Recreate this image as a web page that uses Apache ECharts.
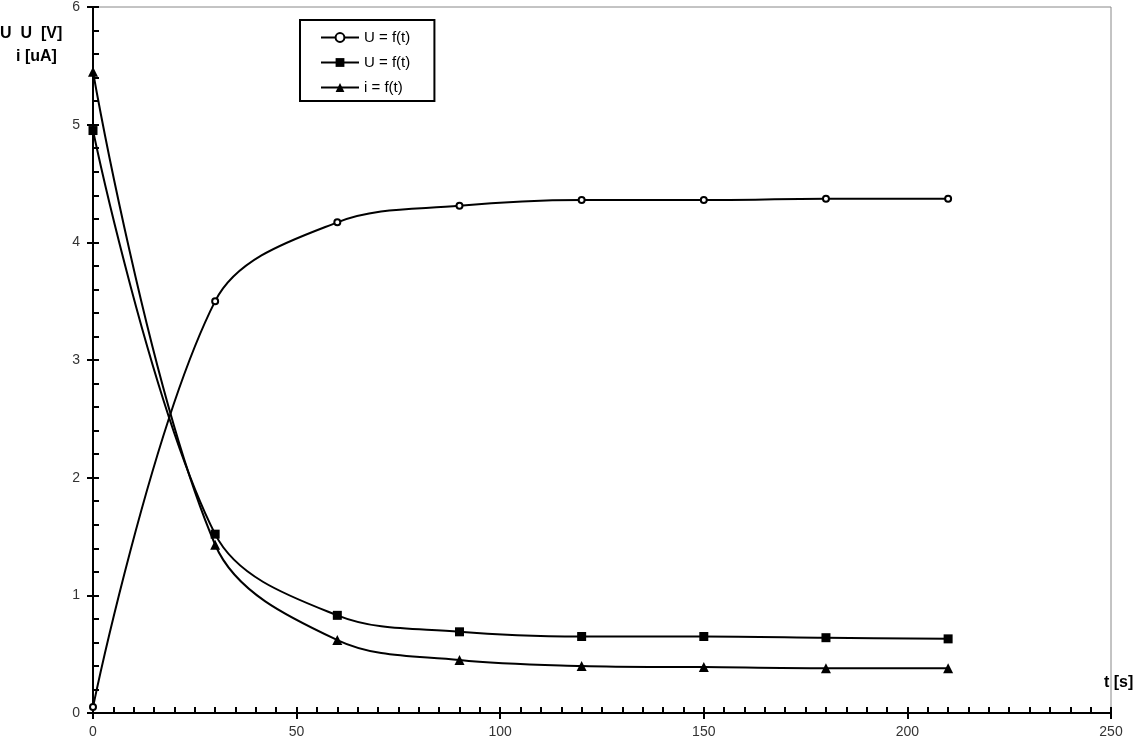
<!DOCTYPE html>
<html><head><meta charset="utf-8">
<script src="https://cdn.jsdelivr.net/npm/echarts@6/dist/echarts.min.js"></script>
<style>html,body{margin:0;padding:0;background:#fff}#c{width:1139px;height:751px}</style>
</head><body><div id="c"></div>
<script>
const tValues = [0, 30, 60, 90, 120, 150, 180, 210];
const uCircle = [0.05, 3.50, 4.17, 4.31, 4.36, 4.36, 4.37, 4.37];
const uSquare = [4.95, 1.52, 0.83, 0.69, 0.65, 0.65, 0.64, 0.63];
const iTriangle = [5.45, 1.43, 0.62, 0.45, 0.40, 0.39, 0.38, 0.38];
const seriesNames = ['U = f(t)', 'U = f(t) ', 'i = f(t)'];

const pair = arr => tValues.map((t, i) => [t, arr[i]]);
const chart = echarts.init(document.getElementById('c'));
const font = 'Liberation Sans, Arial, sans-serif';
const lineStyle = {color: '#000', width: 2};
const tickStyle = {color: '#000', width: 2};
chart.setOption({
  animation: false,
  backgroundColor: '#fff',
  grid: {left: 93, right: 28, top: 6, bottom: 38, show: true, borderColor: '#888', borderWidth: 1},
  legend: {
    left: 300, top: 20, orient: 'vertical', itemGap: 10, itemWidth: 38, itemHeight: 11,
    padding: [10, 20, 6, 20],
    borderColor: '#000', borderWidth: 2, backgroundColor: '#fff',
    textStyle: {fontFamily: font, fontSize: 15, color: '#000'},
    data: seriesNames
  },
  xAxis: [{
    type: 'value', min: 0, max: 250, interval: 50,
    axisLine: {show: true, lineStyle: {color: '#000', width: 2}},
    axisTick: {show: true, inside: true, length: 6, lineStyle: tickStyle},
    minorTick: {show: true, splitNumber: 10, length: 6, lineStyle: tickStyle},
    axisLabel: {fontFamily: font, fontSize: 14, color: '#333', margin: 12},
    splitLine: {show: false}
  }, {
    type: 'value', min: 0, max: 250, interval: 50, position: 'bottom',
    axisLine: {show: false},
    axisTick: {show: true, inside: false, length: 6, lineStyle: tickStyle},
    axisLabel: {show: false}, splitLine: {show: false}
  }],
  yAxis: [{
    type: 'value', min: 0, max: 6, interval: 1,
    axisLine: {show: true, lineStyle: {color: '#000', width: 2}},
    axisTick: {show: true, inside: true, length: 6, lineStyle: tickStyle},
    minorTick: {show: true, splitNumber: 5, length: 6, lineStyle: tickStyle},
    axisLabel: {fontFamily: font, fontSize: 14, color: '#333', margin: 13},
    splitLine: {show: false}
  }, {
    type: 'value', min: 0, max: 6, interval: 1, position: 'left',
    axisLine: {show: false},
    axisTick: {show: true, inside: false, length: 6, lineStyle: tickStyle},
    axisLabel: {show: false}, splitLine: {show: false}
  }],
  series: [{
    name: seriesNames[0], type: 'line', smooth: 0.35, data: pair(uCircle),
    symbol: 'circle', symbolSize: 6, lineStyle,
    itemStyle: {color: '#fff', borderColor: '#000', borderWidth: 2}
  }, {
    name: seriesNames[1], type: 'line', smooth: 0.35, data: pair(uSquare),
    symbol: 'rect', symbolSize: 9, lineStyle,
    itemStyle: {color: '#000'}
  }, {
    name: seriesNames[2], type: 'line', smooth: 0.35, data: pair(iTriangle),
    symbol: 'triangle', symbolSize: 10, lineStyle,
    itemStyle: {color: '#000'}
  }],
  graphic: [
    {type: 'text', left: 0, top: 26, style: {text: 'U  U  [V]', fontFamily: font, fontSize: 16, fontWeight: 'bold', fill: '#000'}},
    {type: 'text', left: 16, top: 49, style: {text: 'i [uA]', fontFamily: font, fontSize: 16, fontWeight: 'bold', fill: '#000'}},
    {type: 'text', left: 1104, top: 675, style: {text: 't [s]', fontFamily: font, fontSize: 16, fontWeight: 'bold', fill: '#000'}}
  ]
});
</script></body></html>
